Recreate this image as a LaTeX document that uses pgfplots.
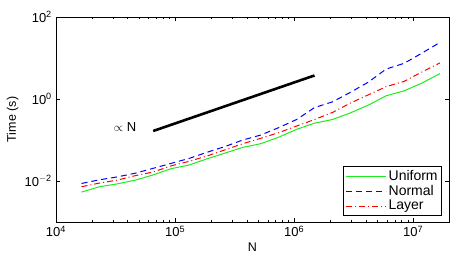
\documentclass[border=0pt]{standalone}
\usepackage{fontspec}
\setmainfont{Liberation Sans}
\usepackage{pgfplots}
\pgfplotsset{compat=1.18}
\definecolor{mgreen}{RGB}{30,235,30}
\definecolor{mblue}{RGB}{0,0,255}
\definecolor{mred}{RGB}{255,0,0}
\begin{document}
\fontsize{12bp}{14bp}\selectfont
\begin{tikzpicture}
\path[use as bounding box] (-56bp,-42bp) rectangle (403bp,222bp);
\begin{axis}[
  scale only axis,
  width=393bp, height=205bp,
  xmode=log, ymode=log,
  xmin=1e4, xmax=2e7, ymin=1e-3, ymax=1e2,
  xtick={1e4,1e5,1e6,1e7},
  xticklabels={10\textsuperscript{4},10\textsuperscript{5},10\textsuperscript{6},10\textsuperscript{7}},
  minor xtick={2e4,3e4,4e4,5e4,6e4,7e4,8e4,9e4,2e5,3e5,4e5,5e5,6e5,7e5,8e5,9e5,2e6,3e6,4e6,5e6,6e6,7e6,8e6,9e6},
  ytick={1e-2,1,1e2},
  yticklabels={10\textsuperscript{$-$2},10\textsuperscript{0},10\textsuperscript{2}},
  minor ytick={},
  tick align=inside,
  major tick length=4bp, minor tick length=2.5bp,
  axis line style={line width=0.5bp},
  every tick/.style={line width=0.4bp, black},
  xlabel={N}, ylabel={Time (s)},
  xlabel style={yshift=2bp},
  ylabel style={yshift=-2bp},
  ticklabel style={font=\fontsize{13bp}{15bp}\selectfont},
  label style={font=\fontsize{12.5bp}{15bp}\selectfont},
  legend style={at={(0.982,0.029)}, anchor=south east, draw=black, line width=0.6bp,
    font=\fontsize{14bp}{16bp}\selectfont, inner sep=2bp, row sep=-1bp},
  legend cell align=left,
  legend image code/.code={\draw[#1] (0bp,0bp) -- (40bp,0bp);},
]
\addplot[draw=mgreen, line width=1bp] coordinates {
(16384,0.00537) (23170,0.00724) (32768,0.00851) (46341,0.0105) (65536,0.0141)
(92682,0.0200) (131072,0.0245) (185364,0.0347) (262144,0.0479) (370728,0.0661)
(524288,0.0813) (741455,0.117) (1048576,0.182) (1482910,0.257) (2097152,0.316)
(2965821,0.457) (4194304,0.708) (5931642,1.20) (8388608,1.58) (11863283,2.45)
(16777216,4.17)};
\addlegendentry{Uniform}
\addplot[draw=mblue, line width=1bp, dash pattern=on 6bp off 4bp] coordinates {
(16384,0.00871) (23170,0.0107) (32768,0.0126) (46341,0.0155) (65536,0.0204)
(92682,0.0269) (131072,0.0355) (185364,0.0501) (262144,0.0692) (370728,0.100)
(524288,0.132) (741455,0.200) (1048576,0.316) (1482910,0.617) (2097152,0.851)
(2965821,1.45) (4194304,2.57) (5931642,5.37) (8388608,7.41) (11863283,13.2)
(16777216,24.0)};
\addlegendentry{Normal}
\addplot[draw=mred, line width=1bp, dash pattern=on 6bp off 3bp on 1bp off 3bp] coordinates {
(16384,0.00724) (23170,0.00891) (32768,0.0105) (46341,0.0135) (65536,0.0166)
(92682,0.0234) (131072,0.0302) (185364,0.0407) (262144,0.0575) (370728,0.0813)
(524288,0.110) (741455,0.151) (1048576,0.219) (1482910,0.316) (2097152,0.468)
(2965821,0.794) (4194304,1.26) (5931642,2.00) (8388608,2.69) (11863283,4.57)
(16777216,7.59)};
\addlegendentry{Layer}
\addplot[black, line width=2.6bp, forget plot] coordinates {(65536,0.166) (1482910,3.75)};
\node[font=\fontsize{13bp}{15bp}\selectfont] at (axis cs:3.8e4,0.205) {$\propto$ N};
\end{axis}
\end{tikzpicture}
\end{document}
